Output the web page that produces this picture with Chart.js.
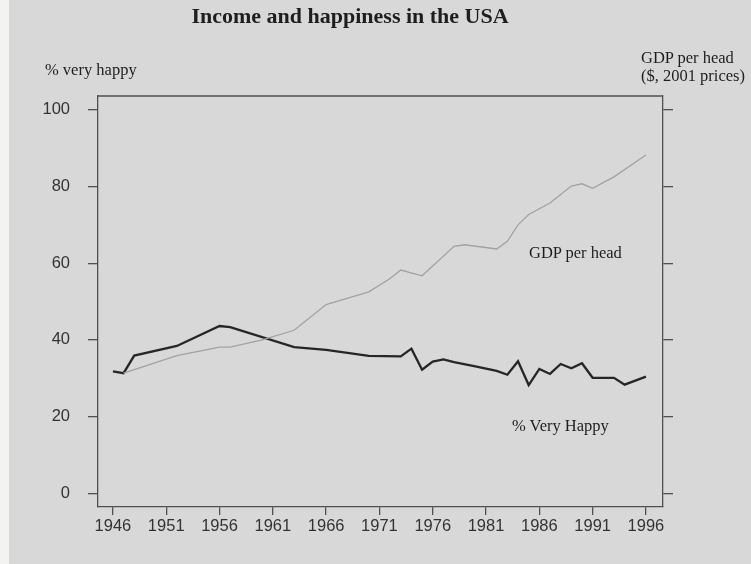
<!DOCTYPE html>
<html>
<head>
<meta charset="utf-8">
<script src="https://cdn.jsdelivr.net/npm/chart.js@4"></script>
<style>
    html, body { margin: 0; padding: 0; }
    body { width: 751px; height: 564px; background: #d8d8d8; position: relative; overflow: hidden; }
    #strip { position: absolute; left: 0; top: 0; width: 9px; height: 564px; background: #f3f3f2; }
    #chart { position: absolute; left: 0; top: 0; }
    .lbl { position: absolute; font-family: "Liberation Serif", "DejaVu Serif", serif; color: #1e1e1e; white-space: nowrap; line-height: 1; }
    #title { left: 0; width: 700px; top: 5px; text-align: center; font-size: 22px; font-weight: bold; }
    #leftTitle { left: 45px; top: 62px; font-size: 16.5px; }
    #rightTitle { left: 641px; top: 49px; font-size: 16.5px; line-height: 18px; }
    #gdpLabel { left: 529px; top: 245px; font-size: 16.5px; }
    #happyLabel { left: 512px; top: 418px; font-size: 16.5px; }
</style>
</head>
<body>
<div id="strip"></div>
<canvas id="chart" width="751" height="564"></canvas>
<div class="lbl" id="title">Income and happiness in the USA</div>
<div class="lbl" id="leftTitle">% very happy</div>
<div class="lbl" id="rightTitle">GDP per head<br>($, 2001 prices)</div>
<div class="lbl" id="gdpLabel">GDP per head</div>
<div class="lbl" id="happyLabel">% Very Happy</div>
<script>
// % very happy, by survey year
const happyYears = [1946, 1947, 1948, 1952, 1956, 1957, 1963, 1966, 1970, 1973, 1974, 1975, 1976, 1977, 1978,
    1980, 1982, 1983, 1984, 1985, 1986, 1987, 1988, 1989, 1990, 1991, 1993, 1994, 1996];
const happyValues = [31.8, 31.3, 35.9, 38.4, 43.6, 43.3, 38.1, 37.4, 35.8, 35.7, 37.7, 32.2, 34.3, 34.9, 34.2,
    33.1, 31.9, 30.9, 34.4, 28.2, 32.4, 31.1, 33.7, 32.6, 33.9, 30.1, 30.1, 28.3, 30.4];

// GDP per head (indexed onto the same 0-100 scale)
const gdpYears = [1947, 1952, 1956, 1957, 1960, 1963, 1966, 1970, 1972, 1973, 1975, 1978, 1979, 1982,
    1983, 1984, 1985, 1987, 1989, 1990, 1991, 1993, 1996];
const gdpValues = [31.3, 35.9, 38.1, 38.1, 40.0, 42.5, 49.2, 52.5, 56.0, 58.2, 56.7, 64.4, 64.8, 63.7,
    65.7, 70.0, 72.7, 75.7, 80.1, 80.7, 79.5, 82.5, 88.2];

// Axis ticks
const yearTicks = [1946, 1951, 1956, 1961, 1966, 1971, 1976, 1981, 1986, 1991, 1996];
const valueTicks = [0, 20, 40, 60, 80, 100];

const axisColor = '#505050';
const tickFont = { family: '"Liberation Sans", Arial, sans-serif', size: 16.5 };

function toPoints(xs, ys) {
    return xs.map((x, i) => ({ x: x, y: ys[i] }));
}

// Closes the box along the top edge
const topBorder = {
    id: 'topBorder',
    afterDraw(chart) {
        const { ctx, chartArea } = chart;
        ctx.save();
        ctx.strokeStyle = axisColor;
        ctx.lineWidth = 1.3;
        ctx.beginPath();
        ctx.moveTo(chartArea.left, chartArea.top);
        ctx.lineTo(chartArea.right, chartArea.top);
        ctx.stroke();
        ctx.restore();
    }
};

new Chart(document.getElementById('chart'), {
    type: 'line',
    data: {
        datasets: [
            {
                label: 'GDP per head',
                data: toPoints(gdpYears, gdpValues),
                borderColor: '#a2a2a2',
                borderWidth: 1.3,
                pointRadius: 0,
                tension: 0,
                yAxisID: 'y'
            },
            {
                label: '% Very Happy',
                data: toPoints(happyYears, happyValues),
                borderColor: '#262626',
                borderWidth: 2.3,
                pointRadius: 0,
                tension: 0,
                yAxisID: 'y'
            }
        ]
    },
    options: {
        responsive: false,
        animation: false,
        devicePixelRatio: 1,
        layout: { padding: { top: 96, left: 0, right: 0, bottom: 0 } },
        plugins: {
            legend: { display: false },
            tooltip: { enabled: false }
        },
        scales: {
            x: {
                type: 'linear',
                position: 'bottom',
                min: 1944.6,
                max: 1997.6,
                afterBuildTicks: (axis) => { axis.ticks = yearTicks.map(v => ({ value: v })); },
                afterFit: (axis) => { axis.height = 57; },
                grid: { drawOnChartArea: false, drawTicks: true, tickLength: 8, color: axisColor, lineWidth: 1.3 },
                border: { color: axisColor, width: 1.3 },
                ticks: {
                    font: tickFont,
                    color: '#333333',
                    padding: 2,
                    maxRotation: 0,
                    autoSkip: false,
                    callback: (v) => String(v)
                }
            },
            y: {
                type: 'linear',
                position: 'left',
                min: -3.6,
                max: 103.6,
                afterBuildTicks: (axis) => { axis.ticks = valueTicks.map(v => ({ value: v })); },
                afterFit: (axis) => { axis.width = 98; },
                grid: { drawOnChartArea: false, drawTicks: true, tickLength: 10, color: axisColor, lineWidth: 1.3 },
                border: { color: axisColor, width: 1.3 },
                ticks: {
                    font: tickFont,
                    color: '#333333',
                    padding: 18,
                    callback: (v) => String(v)
                }
            },
            y2: {
                type: 'linear',
                position: 'right',
                min: -3.6,
                max: 103.6,
                afterBuildTicks: (axis) => { axis.ticks = valueTicks.map(v => ({ value: v })); },
                afterFit: (axis) => { axis.width = 88; },
                grid: { drawOnChartArea: false, drawTicks: true, tickLength: 10, color: axisColor, lineWidth: 1.3 },
                border: { color: axisColor, width: 1.3 },
                ticks: { display: false }
            }
        }
    },
    plugins: [topBorder]
});
</script>
</body>
</html>
